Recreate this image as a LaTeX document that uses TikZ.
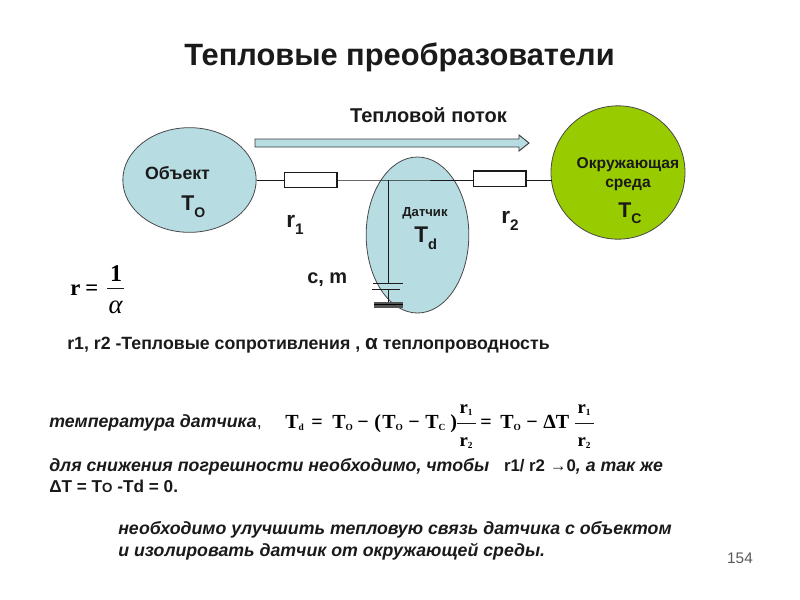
\documentclass[tikz,border=0pt]{standalone}
\usepackage{fontspec}
\setmainfont{Liberation Sans}
\newfontfamily\serifx{Liberation Serif}
\usetikzlibrary{shapes.geometric}
\definecolor{lblue}{HTML}{B7DDE3}
\definecolor{lgreen}{HTML}{99CC00}
\definecolor{ink}{HTML}{1A1A1A}
\newcommand{\fsz}[1]{\fontsize{#1}{#1}\selectfont}
\newcommand{\subt}[3]{\raisebox{#1}{\fsz{#2}#3}}
\tikzset{
  blob/.style={ellipse,draw=ink!80,line width=0.6pt,inner sep=0pt},
  res/.style={rectangle,draw=ink,line width=1pt,fill=white,minimum width=39.5pt,minimum height=11.5pt,inner sep=0pt},
  wire/.style={draw=ink,line width=0.55pt},
  bar/.style={draw=ink,line width=0.5pt},
  txt/.style={inner sep=0pt,text=ink,font=\bfseries},
  ltxt/.style={inner sep=0pt,text=ink,anchor=base west},
  itxt/.style={inner sep=0pt,text=ink,font=\bfseries\itshape\fsz{13.3},anchor=base west},
  eqn/.style={inner sep=0pt,text=black,anchor=base west,font=\serifx\bfseries\fsz{15}},
  eqc/.style={inner sep=0pt,text=black,anchor=base,font=\serifx\bfseries\fsz{14}}
}
\begin{document}
\begin{tikzpicture}[x=0.75pt,y=-0.75pt]
\useasboundingbox (0,0) rectangle (800,600);
\fill[white] (0,0) rectangle (800,600);
\node[txt,font=\bfseries\fsz{23.1}] (title) at (399.5,57.5) {Тепловые преобразователи};
\node[txt,font=\bfseries\fsz{15}] (flow) at (428.5,115.5) {Тепловой поток};
% arrow
\draw[draw=ink!85,fill=lblue,line width=0.7pt] (255,139) -- (519,139) -- (519,135) -- (529,143) -- (519,151) -- (519,147) -- (255,147) -- cycle;
% ellipses
\node[blob,fill=lblue,minimum width=100pt,minimum height=78.5pt] (obj) at (189.5,180) {};
\node[blob,fill=lblue,minimum width=77pt,minimum height=117pt] (sens) at (417.5,235) {};
\node[blob,fill=lgreen,minimum width=100.5pt,minimum height=100pt] (env) at (618,172.5) {};
% resistors
\node[res] (r1) at (310.5,180) {};
\node[res] (r2) at (499.5,178.5) {};
\coordinate (tap) at (388,180);
\coordinate (capa) at (388,283);
\coordinate (capb) at (388,289);
\coordinate (gnd) at (388,303);
\coordinate (envw) at (551.5,180);
\coordinate (r2w) at (473,180);
\coordinate (r2e) at (526,180);
\draw[wire] (obj.east) -- (r1.west);
\draw[wire] (r1.east) -- (tap) -- (r2w);
\draw[wire] (r2e) -- (envw);
\draw[wire] (tap) -- (capa);
\draw[wire] (capb) -- (gnd);
\draw[wire] (373,283) -- (403,283);
\draw[wire] (372,289) -- (400,289);
\fill[ink!75] (374,302) rectangle (403,308);
\draw[black,line width=0.5pt] (374,304.5) -- (403,304.5);
% labels
\node[txt,font=\bfseries\fsz{13.3}] (lobj) at (177.5,173) {Объект};
\node[ltxt,font=\bfseries\fsz{16}] (to) at (181,210) {T\subt{-5.5pt}{10.5}{O}};
\node[ltxt,font=\bfseries\fsz{17}] (lr1) at (286,227) {r\subt{-5.5pt}{11.5}{1}};
\node[ltxt,font=\bfseries\fsz{17}] (lr2) at (501,223) {r\subt{-5.5pt}{11.5}{2}};
\node[txt,font=\bfseries\fsz{9.8}] (ld) at (425,213.5) {Датчик};
\node[ltxt,font=\bfseries\fsz{17}] (td) at (414,242) {T\subt{-5.5pt}{11}{d}};
\node[txt,font=\bfseries\fsz{11.7}] (le1) at (628,164.5) {Окружающая};
\node[txt,font=\bfseries\fsz{11.7}] (le2) at (628,185) {среда};
\node[ltxt,font=\bfseries\fsz{16}] (tc) at (618,217) {T\subt{-5pt}{10.5}{C}};
\node[ltxt,font=\bfseries\fsz{15}] (cm) at (307,283) {c, m};
% r = 1/alpha
\node[eqc,font=\serifx\bfseries\fsz{17},anchor=base west] (f1r) at (70,295) {r};
\node[eqc,font=\serifx\bfseries\fsz{17},anchor=base west] (f1e) at (85,295) {=};
\node[eqc,font=\serifx\bfseries\fsz{18}] (f1n) at (116,281.5) {1};
\draw[bar] (107,288) -- (124,288);
\node[eqc,font=\serifx\itshape\fsz{20}] (f1d) at (115.5,313) {α};
\node[ltxt,font=\bfseries\fsz{13.3}] (rr) at (67,349.5) {r1, r2 -Тепловые сопротивления , {\fsz{15.5}α} теплопроводность};
% formula
\node[itxt] (t1) at (49,427) {температура датчика{\normalfont\mdseries ,}};
\node[eqn] (p1) at (285,428) {T\subt{-2pt}{7}{d}};
\node[eqn] (p2) at (311,428) {=};
\node[eqn] (p3) at (332,428) {T\subt{-2pt}{7}{O}};
\node[eqn] (p4) at (357,428) {−};
\node[eqn] (p5) at (374,428) {(};
\node[eqn] (p6) at (382,428) {T\subt{-2pt}{7}{O}};
\node[eqn] (p7) at (408,428) {−};
\node[eqn] (p8) at (425,428) {T\subt{-2pt}{7}{C}};
\node[eqn] (p9) at (450,428) {)};
\node[eqc] (n1) at (466,413) {r\subt{-2pt}{7}{1}};
\draw[bar] (457,423) -- (476,423);
\node[eqc] (d1) at (466,446) {r\subt{-2pt}{7}{2}};
\node[eqn] (p10) at (480,428) {=};
\node[eqn] (p11) at (500,428) {T\subt{-2pt}{7}{O}};
\node[eqn] (p12) at (526,428) {−};
\node[eqn] (p13) at (543,428) {ΔT};
\node[eqc] (n2) at (584,413) {r\subt{-2pt}{7}{1}};
\draw[bar] (575,423) -- (594,423);
\node[eqc] (d2) at (584,446) {r\subt{-2pt}{7}{2}};
% text
\node[itxt] (t2) at (49,471) {для снижения погрешности необходимо, чтобы\ \ \ {\upshape\fsz{12.6}r1/ r2 →0}, а так же};
\node[itxt] (t3) at (49,492) {{\upshape\fsz{12.9}ΔT = T{\fsz{10}O} -Td = 0.}};
\node[itxt] (t4) at (118,534) {необходимо улучшить тепловую связь датчика с объектом};
\node[itxt] (t5) at (118,556) {и изолировать датчик от окружающей среды.};
\node[inner sep=0pt,text=black!65,font=\fsz{11.5}] (pg) at (740,558) {154};
\end{tikzpicture}
\end{document}
